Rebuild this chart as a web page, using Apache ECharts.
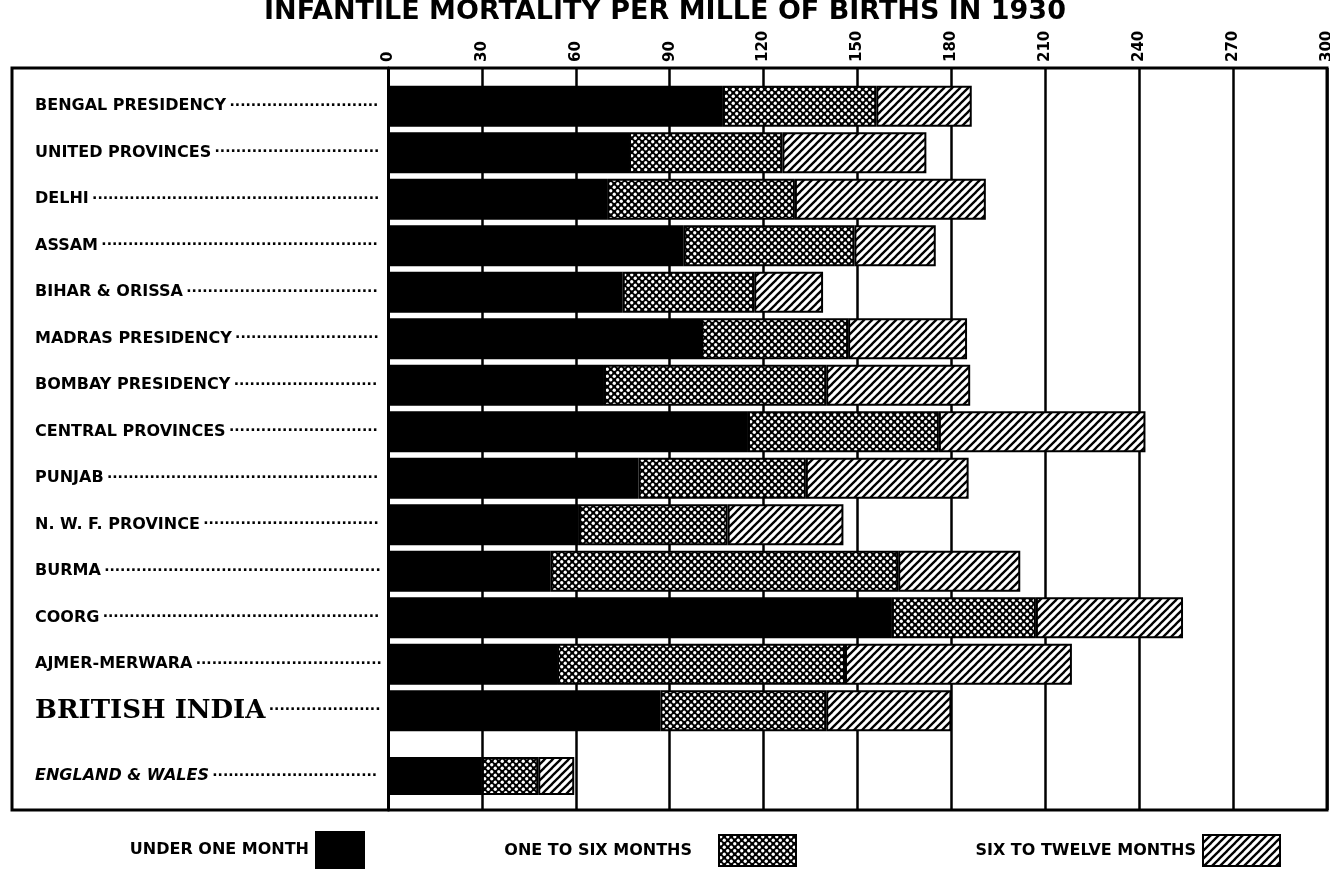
<!DOCTYPE html>
<html>
<head>
<meta charset="utf-8">
<script src="https://cdn.jsdelivr.net/npm/echarts@6/dist/echarts.min.js"></script>
<style>
html,body{margin:0;padding:0;background:#fff;}
#c{width:1330px;height:870px;}
</style>
</head>
<body>
<div id="c"></div>
<script>
// ---------- DATA ----------
const titleText = 'INFANTILE MORTALITY PER MILLE OF BIRTHS IN 1930';
const categories = ['BENGAL PRESIDENCY','UNITED PROVINCES','DELHI','ASSAM','BIHAR & ORISSA','MADRAS PRESIDENCY','BOMBAY PRESIDENCY','CENTRAL PROVINCES','PUNJAB','N. W. F. PROVINCE','BURMA','COORG','AJMER-MERWARA','BRITISH INDIA'];
const underOneMonth = [107, 77, 70, 94.5, 75, 100, 69, 115, 80, 61, 52, 161, 54, 87];
const oneToSixMonths = [49, 49, 60, 54.5, 42, 47, 71, 61, 53.5, 47.5, 111, 46, 92, 53];
const sixToTwelveMonths = [30.5, 46, 61, 26, 22, 38, 46, 66, 52, 37, 39, 47, 72.5, 40];
const compareCategory = ['ENGLAND & WALES'];
const compareUnderOne = [30];
const compareOneToSix = [18];
const compareSixToTwelve = [11.5];
const seriesNames = ['UNDER ONE MONTH','ONE TO SIX MONTHS','SIX TO TWELVE MONTHS'];
const axisMin = 0, axisMax = 300, axisStep = 30;

// ---------- PATTERNS ----------
function dotPattern(){
  const c = document.createElement('canvas'); c.width = 7; c.height = 7;
  const g = c.getContext('2d');
  g.fillStyle = '#000'; g.fillRect(0,0,7,7);
  g.fillStyle = '#fff';
  [[1.75,1.75],[5.25,5.25]].forEach(p=>{g.beginPath();g.arc(p[0],p[1],1.65,0,Math.PI*2);g.fill();});
  return c;
}
function hatchPattern(){
  const s = 8;
  const c = document.createElement('canvas'); c.width = s; c.height = s;
  const g = c.getContext('2d');
  g.fillStyle = '#fff'; g.fillRect(0,0,s,s);
  g.strokeStyle = '#000'; g.lineWidth = 2.3;
  [[0,s,s,0],[-s/2,s/2,s/2,-s/2],[s/2,s*1.5,s*1.5,s/2]].forEach(l=>{g.beginPath();g.moveTo(l[0],l[1]);g.lineTo(l[2],l[3]);g.stroke();});
  return c;
}
const dotFill = {image: dotPattern(), repeat: 'repeat'};
const hatchFill = {image: hatchPattern(), repeat: 'repeat'};

// ---------- LABEL LEADERS ----------
const measureCtx = document.createElement('canvas').getContext('2d');
function textW(font, s){ measureCtx.font = font; return measureCtx.measureText(s).width; }
const LABEL_START = 35, LABEL_END = 383;
const styleFonts = {
  n: 'bold 16px "DejaVu Sans"',
  bi: 'bold 26px "DejaVu Serif"',
  ew: 'italic bold 16px "DejaVu Sans"'
};
const dotFont = 'bold 14px "DejaVu Sans"';
function leaderLabel(name){
  const st = name === 'BRITISH INDIA' ? 'bi' : (name === 'ENGLAND & WALES' ? 'ew' : 'n');
  const w = textW(styleFonts[st], name) + 4;
  const dw = textW(dotFont, '·');
  const n = Math.max(3, Math.floor((LABEL_END - LABEL_START - w) / dw));
  return '{' + st + '|' + name + '} {d|' + '·'.repeat(n) + '}';
}
const richStyles = {
  n: {fontFamily:'DejaVu Sans', fontWeight:'bold', fontSize:16, color:'#000'},
  bi: {fontFamily:'DejaVu Serif', fontWeight:'bold', fontSize:26, color:'#000'},
  ew: {fontFamily:'DejaVu Sans', fontWeight:'bold', fontStyle:'italic', fontSize:16, color:'#000'},
  d: {fontFamily:'DejaVu Sans', fontWeight:'bold', fontSize:14, color:'#000'}
};

// ---------- CHART ----------
const chart = echarts.init(document.getElementById('c'), null, {renderer:'canvas'});
const PLOT_L = 388, PLOT_R = 3;
const barStyle = (fill) => ({color: fill, borderColor:'#000', borderWidth:2});
const BW = 41;

function hiddenX(gi){
  return {gridIndex:gi, type:'value', min:axisMin, max:axisMax, interval:axisStep,
    axisLine:{show:false}, axisTick:{show:false}, axisLabel:{show:false}, splitLine:{show:false}};
}
function catY(gi, data){
  return {gridIndex:gi, type:'category', inverse:true, data:data,
    axisLine:{show:false}, axisTick:{show:false},
    axisLabel:{align:'left', margin: PLOT_L - LABEL_START, formatter: leaderLabel, rich: richStyles}};
}
const legendText = {fontFamily:'DejaVu Sans', fontWeight:'bold', fontSize:16, color:'#000'};

const option = {
  backgroundColor:'#fff',
  animation:false,
  title:{text:titleText, left:'center', top:-7, textStyle:{fontFamily:'DejaVu Sans', fontWeight:'bold', fontSize:27, color:'#000'}},
  graphic:[{type:'rect', shape:{x:12, y:68, width:1315, height:742}, style:{fill:null, stroke:'#000', lineWidth:3}, z:10}],
  grid:[
    {left:PLOT_L, right:PLOT_R, top:83, height:651, outerBoundsMode:'none', containLabel:false},
    {left:PLOT_L, right:PLOT_R, top:753, height:46, outerBoundsMode:'none', containLabel:false},
    {left:PLOT_L, right:PLOT_R, top:68, height:742, outerBoundsMode:'none', containLabel:false}
  ],
  xAxis:[
    hiddenX(0), hiddenX(1),
    {gridIndex:2, type:'value', position:'top', min:axisMin, max:axisMax, interval:axisStep,
      axisLine:{show:false}, axisTick:{show:false},
      axisLabel:{rotate:-90, margin:6, fontFamily:'DejaVu Sans', fontWeight:'bold', fontSize:15, color:'#000'},
      splitLine:{show:true, lineStyle:{color:'#000', width:2.5}}}
  ],
  yAxis:[
    catY(0, categories), catY(1, compareCategory),
    {gridIndex:2, type:'category', data:[''], axisLine:{show:true, lineStyle:{color:'#000', width:3}}, axisTick:{show:false}, axisLabel:{show:false}}
  ],
  legend:[
    {data:[seriesNames[0]], icon:'rect', right:1330-370, top:826, align:'right', itemWidth:48, itemHeight:36, itemGap:0,
      textStyle:Object.assign({padding:[12,2,0,0]}, legendText), selectedMode:false},
    {data:[seriesNames[1]], icon:'rect', right:1330-802, top:829, align:'right', itemWidth:77, itemHeight:31, itemGap:0,
      textStyle:Object.assign({padding:[14,22,0,0]}, legendText), selectedMode:false},
    {data:[seriesNames[2]], icon:'rect', right:1330-1286, top:829, align:'right', itemWidth:77, itemHeight:31, itemGap:0,
      textStyle:Object.assign({padding:[14,2,0,0]}, legendText), selectedMode:false}
  ],
  series:[
    {name:seriesNames[0], type:'bar', stack:'a', xAxisIndex:0, yAxisIndex:0, barWidth:BW, data:underOneMonth, itemStyle:barStyle('#000')},
    {name:seriesNames[1], type:'bar', stack:'a', xAxisIndex:0, yAxisIndex:0, barWidth:BW, data:oneToSixMonths, itemStyle:barStyle(dotFill)},
    {name:seriesNames[2], type:'bar', stack:'a', xAxisIndex:0, yAxisIndex:0, barWidth:BW, data:sixToTwelveMonths, itemStyle:barStyle(hatchFill)},
    {name:seriesNames[0], type:'bar', stack:'b', xAxisIndex:1, yAxisIndex:1, barWidth:BW-3, data:compareUnderOne, itemStyle:barStyle('#000')},
    {name:seriesNames[1], type:'bar', stack:'b', xAxisIndex:1, yAxisIndex:1, barWidth:BW-3, data:compareOneToSix, itemStyle:barStyle(dotFill)},
    {name:seriesNames[2], type:'bar', stack:'b', xAxisIndex:1, yAxisIndex:1, barWidth:BW-3, data:compareSixToTwelve, itemStyle:barStyle(hatchFill)}
  ]
};
chart.setOption(option);
</script>
</body>
</html>
